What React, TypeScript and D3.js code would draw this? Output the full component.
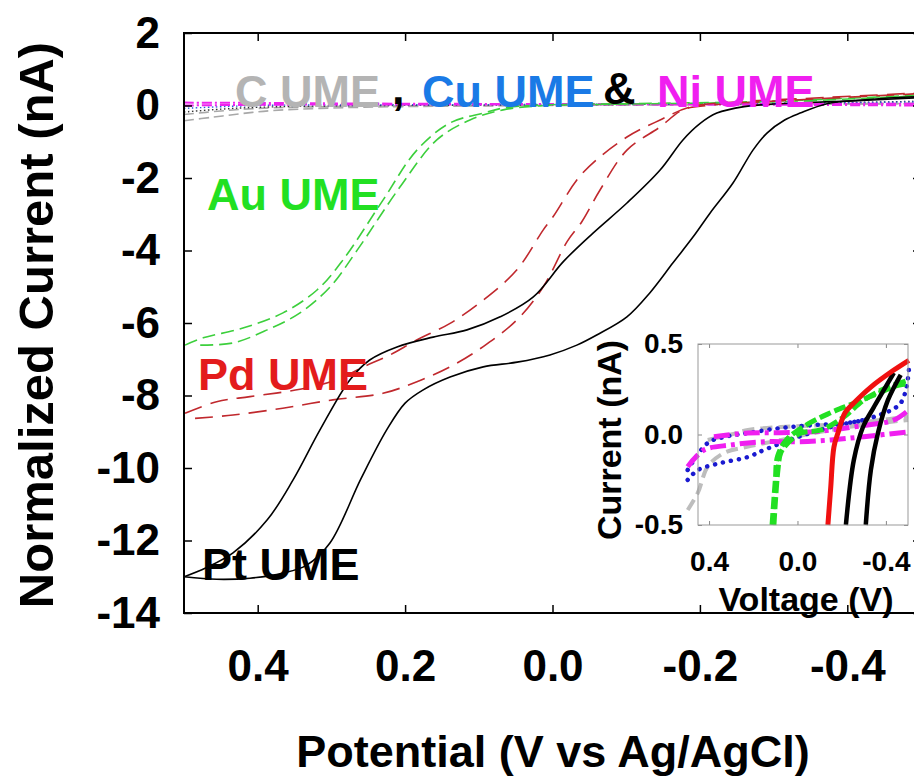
import React, { useEffect, useRef } from 'react'
import * as d3 from 'd3'

type P = [number, number]

// main chart axes
const xTicks = [0.4, 0.2, 0.0, -0.2, -0.4]
const yTicks = [2, 0, -2, -4, -6, -8, -10, -12, -14]

// Pt UME (solid black), two sweeps
const ptOuter: P[] = [
  [0.5, -13.0], [0.47, -12.75], [0.4335, -12.34], [0.387, -11.43], [0.352, -10.33],
  [0.3155, -8.95], [0.275, -7.57], [0.248, -7.02], [0.211, -6.66], [0.162, -6.39],
  [0.116, -6.19], [0.071, -5.83], [0.026, -5.28], [-0.015, -4.3], [-0.055, -3.52],
  [-0.101, -2.69], [-0.146, -1.78], [-0.177, -0.95], [-0.2, -0.5], [-0.223, -0.21],
  [-0.26, -0.03], [-0.3, 0.04], [-0.4, 0.12], [-0.5, 0.22]
]
const ptInner: P[] = [
  [0.5, -13.0], [0.4556, -13.07], [0.4105, -13.04], [0.3657, -12.9], [0.3335, -12.68],
  [0.302, -12.07], [0.26, -10.3], [0.225, -8.95], [0.2, -8.21], [0.176, -7.85],
  [0.139, -7.49], [0.094, -7.21], [0.048, -7.08], [0.0034, -6.88], [-0.033, -6.61],
  [-0.06, -6.33], [-0.101, -5.83], [-0.132, -5.17], [-0.1635, -4.34], [-0.1906, -3.63],
  [-0.2137, -2.97], [-0.2449, -2.14], [-0.272, -1.23], [-0.291, -0.76], [-0.315, -0.4],
  [-0.336, -0.21], [-0.3725, 0.05], [-0.42, 0.15], [-0.5, 0.25]
]

// Pd UME (dark red dashed)
const pdOuter: P[] = [
  [0.4986, -8.49], [0.4557, -8.17], [0.4105, -8.03], [0.3426, -7.83], [0.2928, -7.57],
  [0.2567, -7.21], [0.2205, -6.88], [0.1843, -6.47], [0.139, -6.01], [0.094, -5.37],
  [0.0486, -4.54], [0.0125, -3.43], [-0.0007, -3.07], [-0.041, -1.86], [-0.101, -0.87],
  [-0.146, -0.4], [-0.187, -0.04], [-0.25, 0.1], [-0.35, 0.2], [-0.5, 0.35]
]
const pdInner: P[] = [
  [0.485, -8.63], [0.4335, -8.54], [0.366, -8.35], [0.298, -8.12], [0.23, -7.94],
  [0.184, -7.62], [0.139, -7.21], [0.094, -6.65], [0.0486, -5.92], [0.0125, -5.0],
  [-0.02, -3.75], [-0.04, -3.2], [-0.0645, -2.33], [-0.101, -1.23], [-0.146, -0.59],
  [-0.177, -0.12], [-0.214, 0.01], [-0.3, 0.12], [-0.5, 0.33]
]

// Au UME (green dashed)
const auOuter: P[] = [
  [0.4986, -6.61], [0.474, -6.41], [0.42, -6.14], [0.3657, -5.72], [0.3195, -5.09],
  [0.2843, -4.26], [0.23, -2.61], [0.184, -1.23], [0.139, -0.48], [0.094, -0.21],
  [0.067, -0.07], [0.017, 0.01], [-0.1, 0.05], [-0.3, 0.12], [-0.5, 0.29]
]
const auInner: P[] = [
  [0.478, -6.61], [0.4335, -6.55], [0.387, -6.19], [0.3426, -5.72], [0.302, -5.01],
  [0.265, -3.99], [0.207, -2.25], [0.157, -0.95], [0.112, -0.4], [0.067, -0.12],
  [0.017, -0.01], [-0.1, 0.04], [-0.3, 0.1], [-0.5, 0.27]
]

// C, Cu, Ni UME baselines
const cOuter: P[] = [
  [0.5, -0.42], [0.46, -0.32], [0.42, -0.22], [0.38, -0.14], [0.3, -0.07], [0.2, -0.03],
  [0.0, 0.0], [-0.2, 0.02], [-0.4, 0.04], [-0.5, 0.05]
]
const cInner: P[] = [
  [0.5, -0.25], [0.45, -0.15], [0.4, -0.08], [0.3, -0.03], [0.1, 0.0], [-0.2, 0.03], [-0.5, 0.06]
]
const cuOuter: P[] = [
  [0.5, -0.18], [0.45, -0.1], [0.4, -0.05], [0.3, -0.01], [0.1, 0.01], [-0.2, 0.04],
  [-0.4, 0.08], [-0.5, 0.12]
]
const cuInner: P[] = [[0.5, -0.08], [0.4, 0.0], [0.2, 0.02], [0.0, 0.03], [-0.3, 0.06], [-0.5, 0.1]]
const niOuter: P[] = [[0.5, 0.08], [0.4, 0.07], [0.2, 0.05], [0.0, 0.04], [-0.3, 0.02], [-0.5, 0.0]]
const niInner: P[] = [[0.5, 0.0], [0.4, 0.02], [0.2, 0.03], [0.0, 0.03], [-0.3, 0.04], [-0.5, 0.05]]

// inset
const insetXTicks = [0.4, 0.0, -0.4]
const insetYTicks = [0.5, 0.0, -0.5]

const inGreenA: P[] = [
  [0.1065, -0.5], [0.0884, -0.196], [0.075, -0.1], [0.043, -0.047], [-0.0155, 0.008],
  [-0.106, 0.025], [-0.21, 0.097], [-0.3, 0.19], [-0.409, 0.262], [-0.504, 0.3]
]
const inGreenB: P[] = [
  [0.115, -0.5], [0.1, -0.25], [0.09, -0.12], [0.05, -0.03], [-0.05, 0.06], [-0.15, 0.12],
  [-0.25, 0.17], [-0.35, 0.22], [-0.45, 0.27], [-0.5, 0.28]
]
const inRed: P[] = [
  [-0.1376, -0.5], [-0.15, -0.3], [-0.165, -0.069], [-0.183, 0.008], [-0.215, 0.12],
  [-0.255, 0.174], [-0.332, 0.262], [-0.436, 0.356], [-0.504, 0.41]
]
const inBlackA: P[] = [[-0.219, -0.5], [-0.255, -0.141], [-0.296, 0.04], [-0.345, 0.15], [-0.436, 0.34]]
const inBlackB: P[] = [[-0.309, -0.5], [-0.332, -0.196], [-0.364, 0.008], [-0.409, 0.19], [-0.467, 0.33]]
const inGrayA: P[] = [
  [0.4966, -0.417], [0.451, -0.323], [0.406, -0.178], [0.3325, -0.102], [0.224, -0.067],
  [0.075, -0.03], [-0.074, 0.008], [-0.228, 0.041], [-0.377, 0.064], [-0.5, 0.08]
]
const inGrayB: P[] = [
  [0.406, -0.03], [0.3, 0.0], [0.224, 0.025], [0.075, 0.041], [-0.074, 0.05], [-0.228, 0.06],
  [-0.377, 0.08], [-0.5, 0.1]
]
const inBlueA: P[] = [
  [0.4966, -0.196], [0.406, -0.047], [0.3325, -0.014], [0.224, 0.008], [0.075, 0.036],
  [-0.074, 0.052], [-0.228, 0.064], [-0.345, 0.097], [-0.467, 0.174], [-0.504, 0.356]
]
const inBlueB: P[] = [
  [0.4966, -0.251], [0.45, -0.196], [0.346, -0.157], [0.224, -0.124], [0.152, -0.086],
  [-0.002, -0.014], [-0.151, 0.041], [-0.3, 0.08]
]
const inPinkA: P[] = [
  [0.4966, -0.178], [0.423, -0.086], [0.301, -0.058], [0.152, -0.04], [-0.002, -0.04],
  [-0.151, -0.03], [-0.3, -0.012], [-0.504, 0.015]
]
const inPinkB: P[] = [
  [0.378, -0.012], [0.224, 0.008], [0.075, 0.01], [-0.074, 0.015], [-0.3, 0.05],
  [-0.436, 0.08], [-0.504, 0.136]
]

const FONT = "'Liberation Sans', Arial, sans-serif"

export default function App() {
  const ref = useRef<SVGSVGElement>(null)

  useEffect(() => {
    const svg = d3.select(ref.current)
    svg.selectAll('*').remove()
    svg.attr('font-family', FONT).attr('font-weight', 'bold')

    const left = 184, right = 921, top = 33, bottom = 613
    const x = d3.scaleLinear().domain([0.5, -0.5]).range([left, right])
    const y = d3.scaleLinear().domain([-14, 2]).range([bottom, top])

    svg.append('clipPath').attr('id', 'mainclip')
      .append('rect').attr('x', left).attr('y', top)
      .attr('width', right - left).attr('height', bottom - top)

    const line = d3.line<P>()
      .x(d => x(d[0])).y(d => y(d[1]))
      .curve(d3.curveCatmullRom.alpha(0.5))

    const curves = svg.append('g').attr('clip-path', 'url(#mainclip)').attr('fill', 'none')
    const draw = (g: any, ln: any, data: P[], color: string, w: number, dash?: string) => {
      const p = g.append('path').attr('d', ln(data)).attr('stroke', color)
        .attr('stroke-width', w).attr('fill', 'none')
      if (dash) p.attr('stroke-dasharray', dash)
      return p
    }

    draw(curves, line, cOuter, '#a8a8a8', 1.6, '10,5')
    draw(curves, line, cInner, '#a8a8a8', 1.6, '10,5')
    draw(curves, line, cuOuter, '#333333', 1.4, '1.5,2.5')
    draw(curves, line, cuInner, '#2a5bd7', 1.4, '1.5,2.5')
    draw(curves, line, niOuter, '#ee22ee', 2, '10,3,2,3')
    draw(curves, line, niInner, '#ee22ee', 2, '10,3,2,3')
    draw(curves, line, auOuter, '#3ccf3c', 1.6, '13,6')
    draw(curves, line, auInner, '#3ccf3c', 1.6, '13,6')
    draw(curves, line, pdOuter, '#c0282d', 1.6, '18,9')
    draw(curves, line, pdInner, '#c0282d', 1.6, '18,9')
    draw(curves, line, ptOuter, '#000', 1.6)
    draw(curves, line, ptInner, '#000', 1.6)

    // main axes
    const xb = svg.append('g').attr('transform', `translate(0,${bottom})`)
      .call(d3.axisBottom(x).tickValues(xTicks).tickSize(-8).tickPadding(37)
        .tickFormat(d => (+d).toFixed(1)))
    const xt = svg.append('g').attr('transform', `translate(0,${top})`)
      .call(d3.axisTop(x).tickValues(xTicks).tickSize(-8).tickFormat(() => ''))
    const yl = svg.append('g').attr('transform', `translate(${left},0)`)
      .call(d3.axisLeft(y).tickValues(yTicks).tickSize(-8).tickPadding(24)
        .tickFormat(d => String(d)))
    const yr = svg.append('g').attr('transform', `translate(${right},0)`)
      .call(d3.axisRight(y).tickValues(yTicks).tickSize(-8).tickFormat(() => ''))
    ;[xb, xt, yl, yr].forEach(g => {
      g.select('.domain').remove()
      g.selectAll('line').attr('stroke', '#000').attr('stroke-width', 1.5)
      g.selectAll('text').attr('font-size', 44).attr('font-family', FONT)
        .attr('font-weight', 'bold').attr('fill', '#000')
    })
    svg.append('rect').attr('x', left).attr('y', top).attr('width', right - left)
      .attr('height', bottom - top).attr('fill', 'none').attr('stroke', '#000').attr('stroke-width', 2)

    svg.append('text').attr('transform', `translate(53,${(top + bottom) / 2 + 2}) rotate(-90)`)
      .attr('text-anchor', 'middle').attr('font-size', 49).text('Normalized Current (nA)')
    svg.append('text').attr('x', 553).attr('y', 767)
      .attr('text-anchor', 'middle').attr('font-size', 45).text('Potential (V vs Ag/AgCl)')

    // curve labels
    const labels: [string, number, number, string][] = [
      ['C UME', 235, 107, '#b4b4b4'],
      [',', 392, 104, '#000'],
      ['Cu UME', 422, 107, '#1a7ae6'],
      ['&', 603, 104, '#000'],
      ['Ni UME', 657, 107, '#f01ff0'],
      ['Au UME', 207, 210, '#22e022'],
      ['Pd UME', 198, 390, '#e31c1c'],
      ['Pt UME', 202, 580, '#000']
    ]
    labels.forEach(([t, lx, ly, c]) => {
      svg.append('text').attr('x', lx).attr('y', ly).attr('font-size', 45)
        .attr('fill', c).text(t)
    })

    // inset
    const il = 698, ir = 908, it = 344, ib = 525
    const ix = d3.scaleLinear().domain([0.45, -0.5]).range([il, ir])
    const iy = d3.scaleLinear().domain([-0.5, 0.5]).range([ib, it])
    const iline = d3.line<P>()
      .x(d => ix(d[0])).y(d => iy(d[1]))
      .curve(d3.curveCatmullRom.alpha(0.5))

    const ig = svg.append('g').attr('fill', 'none')
    draw(ig, iline, inGrayA, '#bdbdbd', 4, '12,6')
    draw(ig, iline, inGrayB, '#bdbdbd', 4, '12,6')
    draw(ig, iline, inBlueA, '#1a1ad0', 4.5, '0.1,8').attr('stroke-linecap', 'round')
    draw(ig, iline, inBlueB, '#1a1ad0', 4.5, '0.1,8').attr('stroke-linecap', 'round')
    draw(ig, iline, inPinkA, '#f01ff0', 5, '16,5,4,5')
    draw(ig, iline, inPinkB, '#f01ff0', 5, '16,5,4,5')
    draw(ig, iline, inGreenA, '#22e022', 5, '12,4')
    draw(ig, iline, inGreenB, '#22e022', 5, '12,4')
    draw(ig, iline, inBlackA, '#000', 4.5)
    draw(ig, iline, inBlackB, '#000', 4.5)
    draw(ig, iline, inRed, '#f01010', 5)

    const ixb = svg.append('g').attr('transform', `translate(0,${ib})`)
      .call(d3.axisBottom(ix).tickValues(insetXTicks).tickSize(-4).tickPadding(26)
        .tickFormat(d => (+d).toFixed(1)))
    const ixt = svg.append('g').attr('transform', `translate(0,${it})`)
      .call(d3.axisTop(ix).tickValues(insetXTicks).tickSize(-4).tickFormat(() => ''))
    const iyl = svg.append('g').attr('transform', `translate(${il},0)`)
      .call(d3.axisLeft(iy).tickValues(insetYTicks).tickSize(-4).tickPadding(15)
        .tickFormat(d => (+d).toFixed(1)))
    const iyr = svg.append('g').attr('transform', `translate(${ir},0)`)
      .call(d3.axisRight(iy).tickValues(insetYTicks).tickSize(-4).tickFormat(() => ''))
    ;[ixb, ixt, iyl, iyr].forEach(g => {
      g.select('.domain').remove()
      g.selectAll('line').attr('stroke', '#888').attr('stroke-width', 1)
      g.selectAll('text').attr('font-size', 28).attr('font-family', FONT)
        .attr('font-weight', 'bold').attr('fill', '#000')
    })
    svg.append('rect').attr('x', il).attr('y', it).attr('width', ir - il)
      .attr('height', ib - it).attr('fill', 'none').attr('stroke', '#999').attr('stroke-width', 1)

    svg.append('text').attr('transform', `translate(621,440) rotate(-90)`)
      .attr('text-anchor', 'middle').attr('font-size', 34).text('Current (nA)')
    svg.append('text').attr('x', 806).attr('y', 611)
      .attr('text-anchor', 'middle').attr('font-size', 34).text('Voltage (V)')
  }, [])

  return (
    <div style={{ position: 'absolute', left: 0, top: 0, width: 914, height: 779, background: '#fff' }}>
      <svg ref={ref} width={914} height={779} style={{ display: 'block', overflow: 'hidden' }} />
    </div>
  )
}
